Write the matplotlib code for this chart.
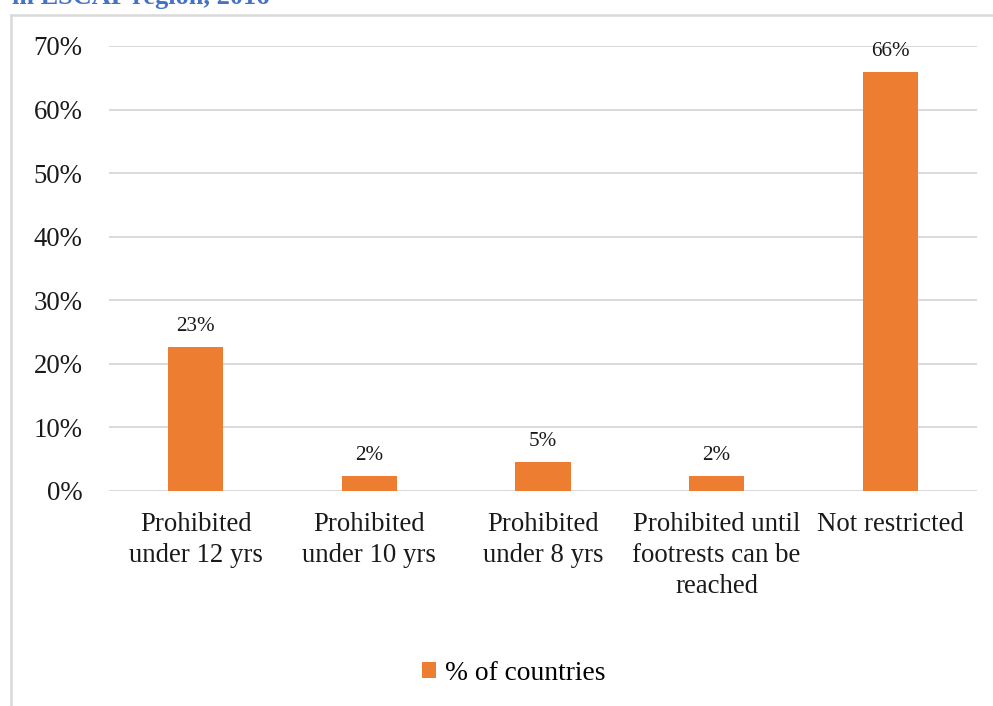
import matplotlib
matplotlib.use("Agg")
import matplotlib.pyplot as plt
from matplotlib.lines import Line2D
from matplotlib.patches import Patch
from matplotlib.ticker import FuncFormatter, MultipleLocator

plt.rcParams['font.family'] = ['Liberation Serif', 'DejaVu Serif']

categories = [
    "Prohibited\nunder 12 yrs",
    "Prohibited\nunder 10 yrs",
    "Prohibited\nunder 8 yrs",
    "Prohibited until\nfootrests can be\nreached",
    "Not restricted",
]
share = [22.7, 2.3, 4.6, 2.3, 65.9]
series_name = "% of countries"
title = "in ESCAP region, 2016"

orange = "#ED7D31"
grid_grey = "#D9D9D9"

W, H = 993, 706
fig = plt.figure(figsize=(W / 100, H / 100), dpi=100)
ax = fig.add_axes([109 / W, 1 - 491 / H, (977 - 109) / W, (491 - 46) / H])

x = list(range(len(categories)))
vals = [v / 100 for v in share]
bars = ax.bar(x, vals, width=0.317, color=orange, zorder=3)

for xi, v in zip(x, share):
    ax.annotate(f"{round(v):d}%", (xi, v / 100), xytext=(0, 8), textcoords="offset points",
                ha="center", va="bottom", fontsize=15.2, color="#1a1a1a")

ax.set_xlim(-0.5, len(categories) - 0.5)
ax.set_ylim(0, 0.7)
ax.yaxis.set_major_locator(MultipleLocator(0.1))
ax.yaxis.set_major_formatter(FuncFormatter(lambda v, _: f"{v * 100:.0f}%"))
ax.grid(axis="y", color=grid_grey, linewidth=1.4, zorder=0)
ax.set_axisbelow(True)
for s in ax.spines.values():
    s.set_visible(False)
ax.tick_params(axis="both", length=0, labelsize=19.3, colors="#1a1a1a")
ax.tick_params(axis="y", pad=19)
ax.tick_params(axis="x", pad=15)
ax.set_xticks(x)
ax.set_xticklabels(categories, linespacing=1.33)

# legend below the plot
handle = Patch(facecolor=orange, edgecolor="none")
fig.legend([handle], [series_name], loc="center", bbox_to_anchor=(514 / W, 1 - 673 / H),
           frameon=False, fontsize=19.8, handlelength=0.5, handleheight=0.5,
           handletextpad=0.35, borderaxespad=0)

# chart frame (top and left edges)
fig.add_artist(Line2D([11 / W, 1], [1 - 15 / H, 1 - 15 / H], transform=fig.transFigure,
                      color=grid_grey, linewidth=1.8))
fig.add_artist(Line2D([11 / W, 11 / W], [0, 1 - 15 / H], transform=fig.transFigure,
                      color=grid_grey, linewidth=1.8))

# heading above the frame
fig.text(12 / W, 1 - 4 / H, title, ha="left", va="baseline", fontsize=19,
         fontweight="bold", color="#4472C4")

fig.savefig("out.png", dpi=100)
